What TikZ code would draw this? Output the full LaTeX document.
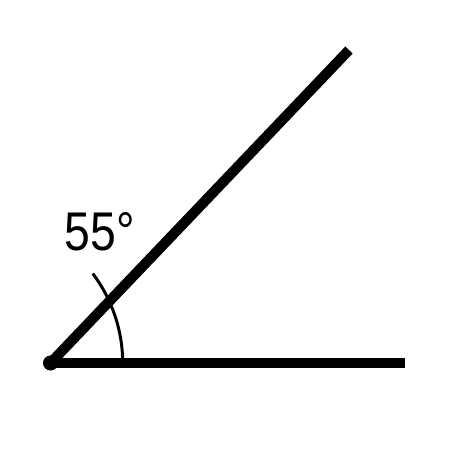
\documentclass[tikz,border=0pt]{standalone}
\usepackage{fontspec}
\setmainfont{Liberation Sans}
\begin{document}
\begin{tikzpicture}[
        x=0.01cm, y=0.01cm,
        ray/.style={line width=2.9pt, line cap=butt},
        mark arc/.style={line width=0.85pt},
        angle label/.style={inner sep=0pt, anchor=base, font=\fontsize{15.5}{15.5}\selectfont, xscale=0.85}
    ]
        \useasboundingbox (0,0) rectangle (450,450);

        % Vẽ hai tia
        \coordinate (O) at (50.5,87);
        \coordinate (B) at (405.5,87);
        \coordinate (A) at (349,400);
        \draw[ray] (O) -- (B);
        \draw[ray] (O) -- (A);
        \fill (O) circle[radius=0.075cm];

        % Cung và nhãn góc
        \coordinate (S) at (122.7,87);
        \draw[mark arc] (S) arc[start angle=0, end angle=37, radius=1.485cm];
        \node[angle label] (lbl) at (100,200) {55°};
    \end{tikzpicture}
\end{document}
